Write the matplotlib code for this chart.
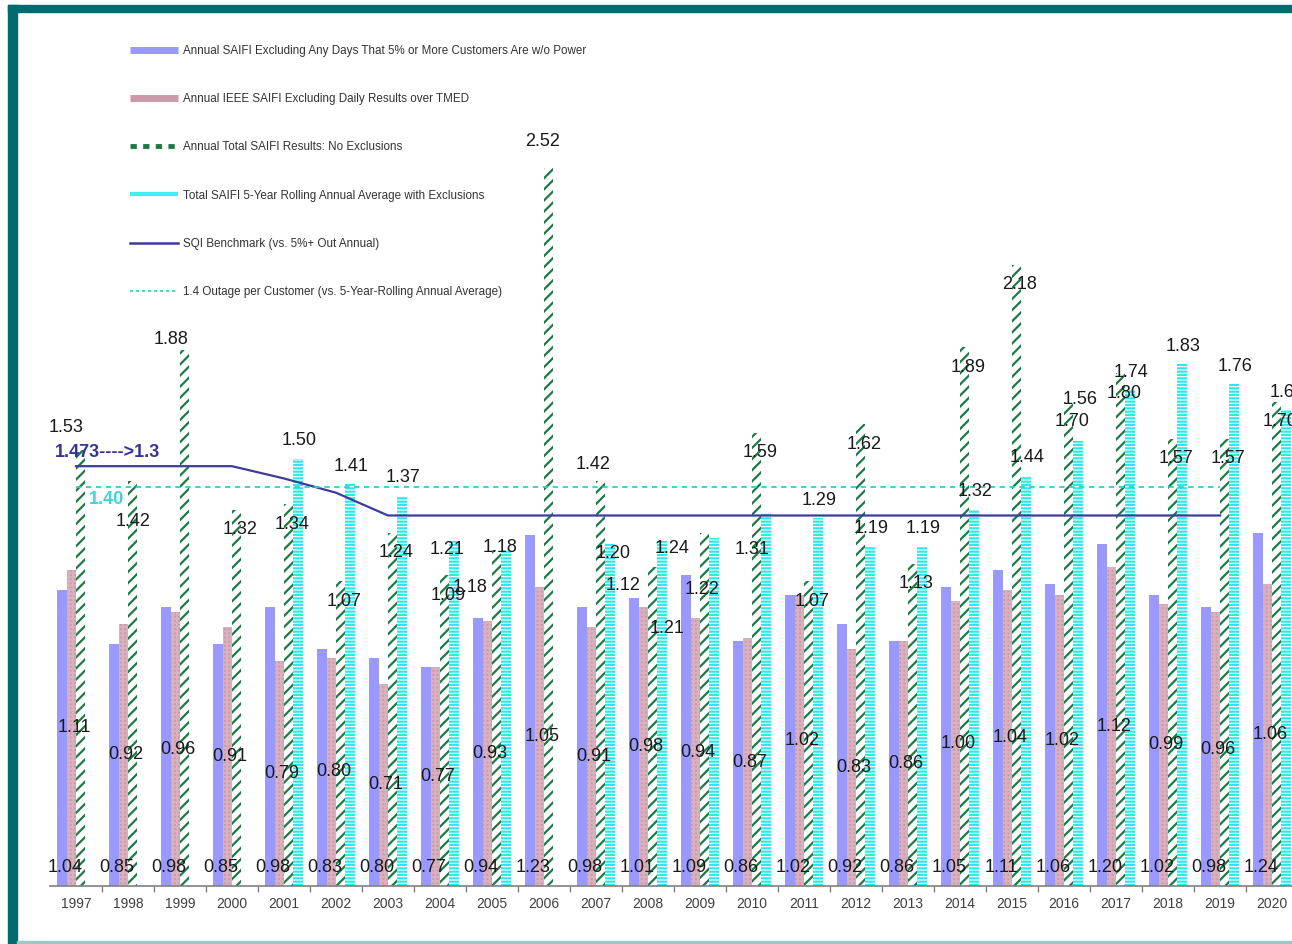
import matplotlib
matplotlib.use("Agg")
import matplotlib.pyplot as plt
import numpy as np
from matplotlib.lines import Line2D
from matplotlib.patches import Rectangle

# 数据 (1997-2020)
years = list(range(1997, 2021))
saifi_excl_5pct = [1.04, 0.85, 0.98, 0.85, 0.98, 0.83, 0.80, 0.77, 0.94, 1.23, 0.98, 1.01,
                   1.09, 0.86, 1.02, 0.92, 0.86, 1.05, 1.11, 1.06, 1.20, 1.02, 0.98, 1.24]
ieee_saifi_tmed = [1.11, 0.92, 0.96, 0.91, 0.79, 0.80, 0.71, 0.77, 0.93, 1.05, 0.91, 0.98,
                   0.94, 0.87, 1.02, 0.83, 0.86, 1.00, 1.04, 1.02, 1.12, 0.99, 0.96, 1.06]
total_saifi = [1.53, 1.42, 1.88, 1.32, 1.34, 1.07, 1.24, 1.09, 1.18, 2.52, 1.42, 1.12,
               1.24, 1.59, 1.07, 1.62, 1.13, 1.89, 2.18, 1.70, 1.80, 1.57, 1.57, 1.70]
rolling_avg = [np.nan, np.nan, np.nan, np.nan, 1.50, 1.41, 1.37, 1.21, 1.18, np.nan, 1.20, 1.21,
               1.22, 1.31, 1.29, 1.19, 1.19, 1.32, 1.44, 1.56, 1.74, 1.83, 1.76, 1.67]
sqi_benchmark = [1.473, 1.473, 1.473, 1.473, 1.43, 1.38, 1.30, 1.30, 1.30, 1.30, 1.30, 1.30,
                 1.30, 1.30, 1.30, 1.30, 1.30, 1.30, 1.30, 1.30, 1.30, 1.30, 1.30, np.nan]
outage_target = 1.4
target_last_year = 2019

legend_labels = [
    "Annual SAIFI Excluding Any Days That 5% or More Customers Are w/o Power",
    "Annual IEEE SAIFI Excluding Daily Results over TMED",
    "Annual Total SAIFI Results: No Exclusions",
    "Total SAIFI 5-Year Rolling Annual Average with Exclusions",
    "SQI Benchmark (vs. 5%+ Out Annual)",
    "1.4 Outage per Customer (vs. 5-Year-Rolling Annual Average)",
]

# 标签的手动偏移 (像素, 相对组中心/柱顶, dy 向下为正)
green_nudge = {1997: (-10, -22), 1998: (5, 40), 1999: (-9, -11), 2005: (-22, 38),
               2006: (-1, -26), 2007: (-3, -17), 2008: (-25, 19), 2009: (-28, 16)}
cyan_nudge = {2004: (7, 8), 2005: (8, -2), 2007: (17, 10), 2008: (19, 87),
              2009: (2, 51), 2010: (0, 37), 2016: (16, -42)}

plt.rcParams['font.family'] = ['Liberation Sans', 'DejaVu Sans']
plt.rcParams['hatch.linewidth'] = 1.6

BLUE = '#9999FF'
PINK = '#CC99AA'
GREEN = '#1E7A45'
CYAN = '#30E8E8'
NAVY = '#3C3C9C'
TEAL = '#006B6E'

W, H = 1292, 944
fig = plt.figure(figsize=(W / 100, H / 100), dpi=100)
fig.patch.set_facecolor('white')

base_px = 886
top_px = 20
ppu = 285.0
ax = fig.add_axes([50 / W, (H - base_px) / H, 1248 / W, (base_px - top_px) / H])
ax.set_ylim(0, (base_px - top_px) / ppu)
ax.set_xlim(-0.5, len(years) - 0.5)
ax.patch.set_visible(False)

x = np.arange(len(years))
w = 0.18
roll = np.array(rolling_avg, dtype=float)
has_roll = ~np.isnan(roll)

ax.bar(x - 1.5 * w, saifi_excl_5pct, w, color=BLUE, linewidth=0, zorder=2)
ax.bar(x - 0.5 * w, ieee_saifi_tmed, w, facecolor=PINK, edgecolor='#D9B0BD',
       hatch='++++', linewidth=0, zorder=2)
ax.bar(x + 0.5 * w, total_saifi, w, facecolor='white', edgecolor=GREEN,
       hatch='///', linewidth=0, zorder=2)
ax.bar(x[has_roll] + 1.5 * w, roll[has_roll], w, facecolor='white', edgecolor=CYAN,
       hatch='-----', linewidth=0, zorder=2)

bench = np.array(sqi_benchmark, dtype=float)
ok = ~np.isnan(bench)
ax.plot(x[ok], bench[ok], color=NAVY, lw=1.6, zorder=3)
ax.plot([0, years.index(target_last_year)], [outage_target, outage_target],
        color='#33CCCC', lw=1.3, dashes=(3, 2.5), zorder=3)

# 数据标签
lab = dict(ha='center', va='center', fontsize=13, color='#1a1a1a',
           textcoords='offset pixels', zorder=6)
for i, yr in enumerate(years):
    ax.annotate(f'{saifi_excl_5pct[i]:.2f}', xy=(i, 0), xytext=(-11, 18), **lab)
    ax.annotate(f'{ieee_saifi_tmed[i]:.2f}', xy=(i, ieee_saifi_tmed[i] / 2), xytext=(-2, 0), **lab)
    dx, dy = green_nudge.get(yr, (8, 20))
    ax.annotate(f'{total_saifi[i]:.2f}', xy=(i, total_saifi[i]), xytext=(dx, -dy), **lab)
    if has_roll[i]:
        dx, dy = cyan_nudge.get(yr, (15, -18))
        ax.annotate(f'{roll[i]:.2f}', xy=(i, roll[i]), xytext=(dx, -dy), **lab)

ax.annotate('1.473---->1.3', xy=(0, sqi_benchmark[0]), xytext=(32, 14),
            textcoords='offset pixels', ha='center', va='center', fontsize=13,
            fontweight='bold', color='#333399', zorder=6)
ax.annotate('1.40', xy=(0, outage_target), xytext=(31, -13),
            textcoords='offset pixels', ha='center', va='center', fontsize=13,
            fontweight='bold', color='#40D4D4', zorder=6)

# 坐标轴
for s in ['left', 'top', 'right']:
    ax.spines[s].set_visible(False)
ax.spines['bottom'].set_color('#808080')
ax.spines['bottom'].set_linewidth(1.2)
ax.set_yticks([])
ax.set_xticks(x)
ax.set_xticklabels([str(y) for y in years], fontsize=10, color='#404040')
ax.tick_params(axis='x', which='major', length=0, pad=8)
ax.set_xticks(x[:-1] + 0.5, minor=True)
ax.tick_params(axis='x', which='minor', length=4, color='#808080', width=1)

# 图例
handles = [
    Line2D([], [], color=BLUE, lw=5, solid_capstyle='butt'),
    Line2D([], [], color=PINK, lw=5, solid_capstyle='butt'),
    Line2D([], [], color=GREEN, lw=3.5, dashes=(1.3, 1.3)),
    Line2D([], [], color='#40F0F0', lw=3, solid_capstyle='butt'),
    Line2D([], [], color=NAVY, lw=1.8),
    Line2D([], [], color='#33CCCC', lw=1.2, dashes=(2, 1.6)),
]
fig.legend(handles, legend_labels, loc='upper left',
           bbox_to_anchor=(130 / W, (H - 45) / H), frameon=False,
           borderpad=0, borderaxespad=0, handlelength=4.1, handletextpad=0.43,
           labelspacing=3.1, prop={'size': 8.4}, labelcolor='#333333')

# 青色边框
fig.add_artist(Rectangle((8 / W, 0), 9 / W, (H - 5) / H, transform=fig.transFigure,
                         color=TEAL, zorder=10))
fig.add_artist(Rectangle((8 / W, (H - 12) / H), 1 - 8 / W, 7 / H, transform=fig.transFigure,
                         color=TEAL, zorder=10))
fig.add_artist(Rectangle((17 / W, 0), 1, 3 / H, transform=fig.transFigure,
                         color='#9CC8C8', zorder=10))

fig.savefig('out.png', dpi=100)
